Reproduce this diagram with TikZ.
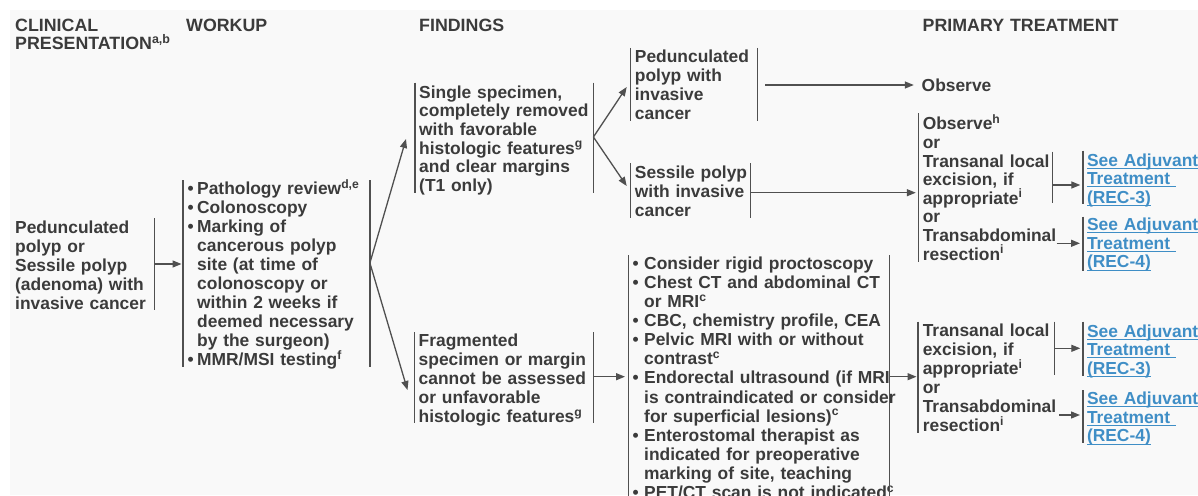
\documentclass[tikz,border=0pt]{standalone}
\usepackage{fontspec}
\setmainfont{Liberation Sans}
\usetikzlibrary{arrows.meta,calc}
\definecolor{txt}{HTML}{3B3B3B}
\definecolor{ln}{HTML}{505050}
\definecolor{lnk}{HTML}{3F8EC6}
\definecolor{bg}{HTML}{F9F9F9}
\newcommand\lk[1]{\setbox0\hbox{#1}\rlap{\rule[-2.6pt]{\wd0}{1pt}}\box0}
\newcommand\bl[1]{\makebox[#1][l]{\textbullet}}
\newcommand\sps[1]{\textsuperscript{#1}}
\tikzset{
  txtfont/.style={font={\bfseries\fontsize{17.4}{#1}\selectfont}},
  txtfont/.default=19,
  blk/.style={anchor=base west, inner xsep=4pt, inner ysep=0pt, align=left, text=txt, text width=#1},
  hdr/.style={anchor=base west, inner sep=0pt, align=left, text=txt, text width=300pt,
    font={\bfseries\fontsize{17.8}{18.3}\selectfont}},
  bar/.style={draw=ln, line width=1.3pt},
  arr/.style={draw=ln, line width=1.3pt, -{Triangle[length=9pt,width=7pt]}},
}
\begin{document}
\begin{tikzpicture}[x=1pt,y=-1pt]
\useasboundingbox (0,0) rectangle (1198,495);
\clip (0,0) rectangle (1198,495);
\fill[bg] (10,10) rectangle (1198,495);

% headers
\node[hdr] (h1) at (15,31.7) {CLINICAL\\PRESENTATION\sps{a,b}};
\node[hdr] (h2) at (186,31.7) {WORKUP};
\node[hdr] (h3) at (419,31.7) {FINDINGS};
\node[hdr] (h4) at (922.5,31.7) {PRIMARY TREATMENT};

% clinical presentation
\node[blk=135pt, txtfont] (c) at (11,233.3) {\mbox{Pedunculated}\\\mbox{polyp or}\\\mbox{Sessile polyp}\\\mbox{(adenoma) with}\\\mbox{invasive cancer}};
\draw[bar] (c.east |- 0,218) -- (c.east |- 0,310);

% workup
\node[blk=177.5pt, inner xsep=4.5pt, txtfont=19.05] (w) at (183,194.3) {\mbox{\bl{9.5pt}Pathology review\sps{d,e}}\\\mbox{\bl{9.5pt}Colonoscopy}\\\mbox{\bl{9.5pt}Marking of}\\\mbox{\hspace*{9.5pt}cancerous polyp}\\\mbox{\hspace*{9.5pt}site (at time of}\\\mbox{\hspace*{9.5pt}colonoscopy or}\\\mbox{\hspace*{9.5pt}within 2 weeks if}\\\mbox{\hspace*{9.5pt}deemed necessary}\\\mbox{\hspace*{9.5pt}by the surgeon)}\\\mbox{\bl{9.5pt}MMR/MSI testing\sps{f}}};
\draw[bar] (w.west |- 0,180) -- (w.west |- 0,367);
\draw[bar] (w.east |- 0,180) -- (w.east |- 0,367);

% findings
\node[blk=170pt, txtfont=18.7] (ss) at (415,98) {\mbox{Single specimen,}\\\mbox{completely removed}\\\mbox{with favorable}\\\mbox{histologic features\sps{g}}\\\mbox{and clear margins}\\\mbox{(T1 only)}};
\draw[bar] (ss.west |- 0,82.5) -- (ss.west |- 0,193);
\draw[bar] (ss.east |- 0,82.5) -- (ss.east |- 0,193);

\node[blk=170.5pt, txtfont] (fr) at (414.5,346.3) {\mbox{Fragmented}\\\mbox{specimen or margin}\\\mbox{cannot be assessed}\\\mbox{or unfavorable}\\\mbox{histologic features\sps{g}}};
\draw[bar] (fr.west |- 0,332) -- (fr.west |- 0,422.5);
\draw[bar] (fr.east |- 0,332) -- (fr.east |- 0,422.5);

\node[blk=118.3pt, txtfont] (pp) at (630.7,62.7) {\mbox{Pedunculated}\\\mbox{polyp with}\\\mbox{invasive}\\\mbox{cancer}};
\draw[bar] (pp.west |- 0,48) -- (pp.west |- 0,120.5);
\draw[bar] (pp.east |- 0,48) -- (pp.east |- 0,120.5);

\node[blk=111.7pt, txtfont] (sp) at (630.7,178.7) {\mbox{Sessile polyp}\\\mbox{with invasive}\\\mbox{cancer}};
\draw[bar] (sp.west |- 0,163) -- (sp.west |- 0,218);
\draw[bar] (sp.east |- 0,163) -- (sp.east |- 0,218);

% second workup
\node[blk=252.9pt, inner xsep=3.8pt, txtfont=19.1] (w2) at (628.7,269.3) {\mbox{\bl{11.5pt}Consider rigid proctoscopy}\\\mbox{\bl{11.5pt}Chest CT and abdominal CT}\\\mbox{\hspace*{11.5pt}or MRI\sps{c}}\\\mbox{\bl{11.5pt}CBC, chemistry profile, CEA}\\\mbox{\bl{11.5pt}Pelvic MRI with or without}\\\mbox{\hspace*{11.5pt}contrast\sps{c}}\\\mbox{\bl{11.5pt}Endorectal ultrasound (if MRI}\\\mbox{\hspace*{11.5pt}is contraindicated or consider}\\\mbox{\hspace*{11.5pt}for superficial lesions)\sps{c}}\\\mbox{\bl{11.5pt}Enterostomal therapist as}\\\mbox{\hspace*{11.5pt}indicated for preoperative}\\\mbox{\hspace*{11.5pt}marking of site, teaching}\\\mbox{\bl{11.5pt}PET/CT scan is not indicated\sps{c}}};
\draw[bar] (w2.west |- 0,255) -- (w2.west |- 0,500);
\draw[bar] (w2.east |- 0,255) -- (w2.east |- 0,500);

% primary treatment
\node[anchor=base west, inner sep=0pt, text=txt, txtfont] (ob) at (921.5,91) {Observe};

\node[blk=140pt, inner xsep=3.8pt, txtfont=18.6] (t1) at (918.8,129.8) {\mbox{Observe\sps{h}}\\\mbox{or}\\\mbox{Transanal local}\\\mbox{excision, if}\\\mbox{appropriate\sps{i}}\\\mbox{or}\\\mbox{Transabdominal}\\\mbox{resection\sps{i}}};
\draw[bar] (t1.west |- 0,113) -- (t1.west |- 0,261.7);
\coordinate (t1a) at (1052.7,185);
\coordinate (t1b) at (1056.7,243.3);
\draw[bar] (t1a |- 0,151.7) -- (t1a |- 0,203.3);

\node[blk=140pt, inner xsep=4.6pt, txtfont] (t2) at (918,336.8) {\mbox{Transanal local}\\\mbox{excision, if}\\\mbox{appropriate\sps{i}}\\\mbox{or}\\\mbox{Transabdominal}\\\mbox{resection\sps{i}}};
\draw[bar] (t2.west |- 0,321.7) -- (t2.west |- 0,432.7);
\coordinate (t2a) at (1054.6,348.3);
\coordinate (t2b) at (1059,415);
\draw[bar] (t2a |- 0,321.7) -- (t2a |- 0,375);

% adjuvant links
\node[blk=110pt, inner xsep=3.8pt, txtfont=18.7, text=lnk] (r1) at (1083,166) {\mbox{\lk{See Adjuvant}}\\\mbox{\lk{Treatment\ }}\\\mbox{\lk{(REC-3)}}};
\draw[bar] (r1.west |- 0,150.7) -- (r1.west |- 0,204);
\node[blk=110pt, inner xsep=3.8pt, txtfont=18.7, text=lnk] (r2) at (1083,230.5) {\mbox{\lk{See Adjuvant}}\\\mbox{\lk{Treatment\ }}\\\mbox{\lk{(REC-4)}}};
\draw[bar] (r2.west |- 0,216.7) -- (r2.west |- 0,271);
\node[blk=110pt, inner xsep=3.8pt, txtfont=18.7, text=lnk] (r3) at (1083,337) {\mbox{\lk{See Adjuvant}}\\\mbox{\lk{Treatment\ }}\\\mbox{\lk{(REC-3)}}};
\draw[bar] (r3.west |- 0,321.7) -- (r3.west |- 0,376);
\node[blk=110pt, inner xsep=3.8pt, txtfont=18.7, text=lnk] (r4) at (1083,404.5) {\mbox{\lk{See Adjuvant}}\\\mbox{\lk{Treatment\ }}\\\mbox{\lk{(REC-4)}}};
\draw[bar] (r4.west |- 0,390) -- (r4.west |- 0,443.3);

% connectors
\draw[arr] (c.east |- 0,264) -- ($(w.west |- 0,264)+(-1.5,0)$);
\draw[arr] (w.east |- 0,263) -- ($(ss.west |- 0,139)+(-9,0)$);
\draw[arr] (w.east |- 0,263) -- ($(fr.west |- 0,390)+(-7,0)$);
\draw[arr] (ss.east |- 0,137) -- ($(pp.west |- 0,87)+(-4,0)$);
\draw[arr] (ss.east |- 0,137) -- ($(sp.west |- 0,186)+(-4,0)$);
\draw[arr] ($(pp.east |- 0,85)+(7.6,0)$) -- ($(ob.west |- 0,85)+(-7.7,0)$);
\draw[arr] (sp.east |- 0,192.7) -- ($(t1.west |- 0,192.7)+(-3,0)$);
\draw[arr] (t1a) -- ($(r1.west |- t1a)+(-2.7,0)$);
\draw[arr] (t1b) -- ($(r2.west |- t1b)+(-3,0)$);
\draw[arr] (fr.east |- 0,376.7) -- ($(w2.west |- 0,376.7)+(-3.7,0)$);
\draw[arr] (w2.east |- 0,376.7) -- ($(t2.west |- 0,376.7)+(-1.5,0)$);
\draw[arr] (t2a) -- ($(r3.west |- t2a)+(-2.7,0)$);
\draw[arr] (t2b) -- ($(r4.west |- t2b)+(-3,0)$);
\end{tikzpicture}
\end{document}
